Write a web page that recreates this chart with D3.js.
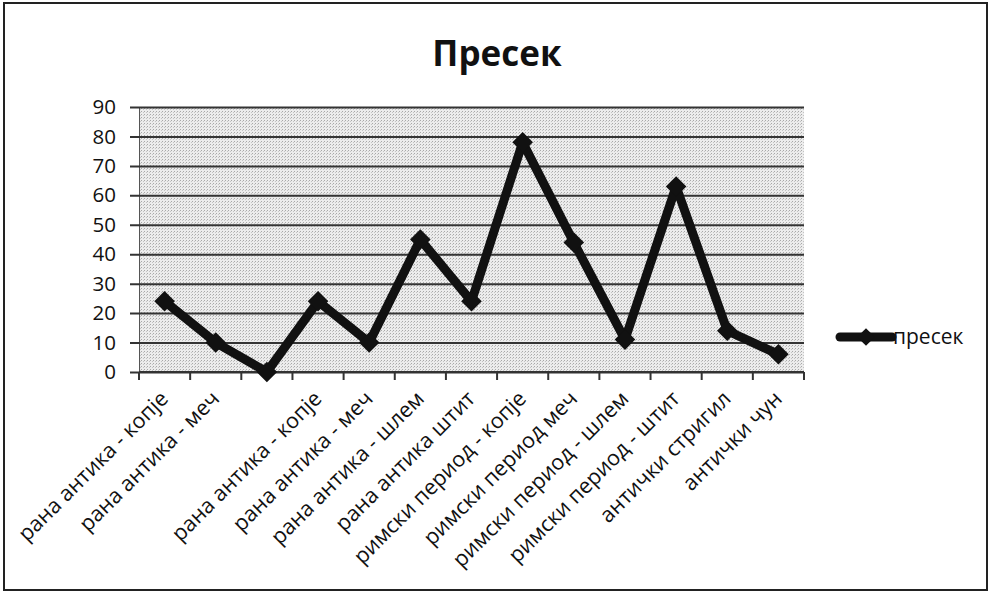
<!DOCTYPE html>
<html>
<head>
<meta charset="utf-8">
<script src="https://cdn.jsdelivr.net/npm/d3@7"></script>
<style>
  body { margin: 0; background: #fff; }
  svg { display: block; font-family: "Open Sans", "DejaVu Sans", sans-serif; }
</style>
</head>
<body>
<svg width="991" height="592"></svg>
<script>
var categories = [
  "рана антика - копје", "рана антика - меч", "",
  "рана антика - копје", "рана антика - меч", "рана антика - шлем",
  "рана антика штит", "римски период - копје", "римски период меч",
  "римски период - шлем", "римски период - штит", "антички стригил", "антички чун"
];
var values = [24, 10, 0, 24, 10, 45, 24, 78, 44, 11, 63, 14, 6];
var yTicks = [0, 10, 20, 30, 40, 50, 60, 70, 80, 90];
var seriesName = "пресек";

var svg = d3.select("svg");
var width = +svg.attr("width");
var height = +svg.attr("height");

// outer frame
svg.append("rect")
    .attr("x", 4).attr("y", 3)
    .attr("width", width - 8).attr("height", height - 5)
    .attr("fill", "#fff").attr("stroke", "#222").attr("stroke-width", 2);

var plotLeft = 139, plotRight = 804, plotTop = 107, plotBottom = 372;

var x = d3.scaleBand().domain(d3.range(categories.length)).range([plotLeft, plotRight]);
var y = d3.scaleLinear().domain([0, 90]).range([plotBottom, plotTop]);

// stippled plot background
var defs = svg.append("defs");
var pat = defs.append("pattern")
    .attr("id", "stip").attr("width", 3).attr("height", 3)
    .attr("patternUnits", "userSpaceOnUse");
pat.append("rect").attr("width", 3).attr("height", 3).attr("fill", "#ececec");
pat.append("rect").attr("width", 1).attr("height", 1).attr("fill", "#a8a8a8");
pat.append("rect").attr("x", 2).attr("y", 1).attr("width", 1).attr("height", 1).attr("fill", "#c4c4c4");

svg.append("rect")
    .attr("x", plotLeft).attr("y", plotTop)
    .attr("width", plotRight - plotLeft).attr("height", plotBottom - plotTop)
    .attr("fill", "url(#stip)");

// title
svg.append("text")
    .attr("x", 497).attr("y", 66)
    .attr("text-anchor", "middle")
    .attr("font-size", 35).attr("font-weight", "bold")
    .attr("fill", "#111")
    .text("Пресек");

// y axis with gridlines
var yAxis = svg.append("g")
    .attr("transform", "translate(" + plotLeft + ",0)")
    .call(d3.axisLeft(y).tickValues(yTicks).tickSizeOuter(0));
yAxis.select(".domain").attr("stroke", "#555").attr("stroke-width", 1);
yAxis.selectAll(".tick line")
    .attr("x1", -9).attr("x2", plotRight - plotLeft)
    .attr("stroke", "#333").attr("stroke-width", 2);
yAxis.selectAll(".tick text")
    .attr("x", -23)
    .attr("font-size", 20.5).attr("fill", "#111")
    .attr("font-family", "\"Open Sans\", sans-serif");

// x axis
var xAxisG = svg.append("g").attr("transform", "translate(0," + plotBottom + ")");
xAxisG.append("line")
    .attr("x1", plotLeft).attr("x2", plotRight)
    .attr("stroke", "#333").attr("stroke-width", 2);
xAxisG.selectAll("line.tk")
    .data(d3.range(categories.length + 1))
    .enter().append("line")
    .attr("class", "tk")
    .attr("x1", function(i) { return plotLeft + i * x.step(); })
    .attr("x2", function(i) { return plotLeft + i * x.step(); })
    .attr("y1", 0).attr("y2", 8)
    .attr("stroke", "#333").attr("stroke-width", 2);
xAxisG.selectAll("text")
    .data(categories)
    .enter().append("text")
    .attr("transform", function(d, i) {
      return "translate(" + (x(i) + x.bandwidth() / 2 + 5) + ",28) rotate(-45)";
    })
    .attr("text-anchor", "end")
    .attr("font-size", 21.5).attr("fill", "#111")
    .text(function(d) { return d; });

// line series
var cx = function(d, i) { return x(i) + x.bandwidth() / 2; };
svg.append("path")
    .datum(values)
    .attr("fill", "none").attr("stroke", "#111")
    .attr("stroke-width", 9).attr("stroke-linejoin", "round")
    .attr("d", d3.line().x(cx).y(function(d) { return y(d); }));

var diamond = d3.symbol().type(d3.symbolDiamond2).size(270);
svg.selectAll("path.mk")
    .data(values)
    .enter().append("path")
    .attr("class", "mk")
    .attr("transform", function(d, i) { return "translate(" + cx(d, i) + "," + y(d) + ")"; })
    .attr("d", diamond)
    .attr("fill", "#111");

// legend
var lg = svg.append("g").attr("transform", "translate(840,337)");
lg.append("line")
    .attr("x1", 0).attr("x2", 52)
    .attr("stroke", "#111").attr("stroke-width", 9).attr("stroke-linecap", "round");
lg.append("path")
    .attr("transform", "translate(26,0)")
    .attr("d", d3.symbol().type(d3.symbolDiamond2).size(200))
    .attr("fill", "#111");
lg.append("text")
    .attr("x", 53).attr("y", 7)
    .attr("font-size", 21).attr("fill", "#111")
    .text(seriesName);
</script>
</body>
</html>
